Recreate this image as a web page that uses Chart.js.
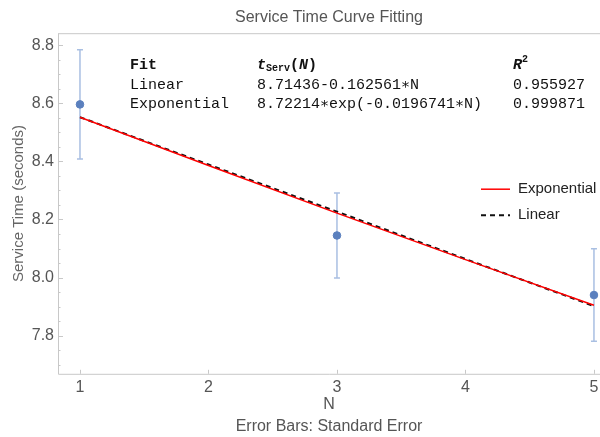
<!DOCTYPE html>
<html>
<head>
<meta charset="utf-8">
<script src="https://cdn.jsdelivr.net/npm/chart.js@4.4.1/dist/chart.umd.min.js"></script>
<style>
  html, body { margin: 0; padding: 0; background: #fff; }
  #wrap { width: 600px; height: 437px; }
</style>
</head>
<body>
<div id="wrap"><canvas id="fitChart" width="600" height="437"></canvas></div>
<script>
// --- data ---
const nValues = [1, 3, 5];
const serviceMean = [8.596, 8.145, 7.940];
const serviceErr = [0.188, 0.146, 0.159];

const fitN = [1, 2, 3, 4, 5];
const expFit = [8.552, 8.386, 8.222, 8.062, 7.905];
const linFit = [8.552, 8.389, 8.227, 8.064, 7.902];

const xTicks = [1, 2, 3, 4, 5];
const yTicks = [7.8, 8.0, 8.2, 8.4, 8.6, 8.8];

const fitNames = ['Linear', 'Exponential'];
const fitFormulas = ['8.71436-0.162561\u2217N', '8.72214\u2217exp(-0.0196741\u2217N)'];
const fitR2 = ['0.955927', '0.999871'];

const SANS = '"Liberation Sans", Arial, Helvetica, sans-serif';
const MONO = '"Liberation Mono", "DejaVu Sans Mono", monospace';
const FRAME = '#c8c8c8';

const toPoints = (xs, ys) => xs.map((x, i) => ({ x: x, y: ys[i] }));

// error bars under the points
const errorBars = {
    id: 'errorBars',
    beforeDatasetsDraw(chart) {
        const { ctx, scales: { x, y } } = chart;
        ctx.save();
        ctx.strokeStyle = '#a9bfe2';
        ctx.lineWidth = 1.5;
        nValues.forEach((n, i) => {
            const px = x.getPixelForValue(n);
            const top = y.getPixelForValue(serviceMean[i] + serviceErr[i]);
            const bot = y.getPixelForValue(serviceMean[i] - serviceErr[i]);
            ctx.beginPath();
            ctx.moveTo(px, top); ctx.lineTo(px, bot);
            ctx.moveTo(px - 3, top); ctx.lineTo(px + 3, top);
            ctx.moveTo(px - 3, bot); ctx.lineTo(px + 3, bot);
            ctx.stroke();
        });
        ctx.restore();
    }
};

// frame lines, small inward ticks and the x tick labels
const frame = {
    id: 'frame',
    beforeDatasetsDraw(chart) {
        const { ctx, chartArea: a, scales: { x, y } } = chart;
        ctx.save();
        ctx.strokeStyle = FRAME;
        ctx.lineWidth = 1;
        ctx.beginPath();
        ctx.moveTo(a.left + 0.5, a.top + 0.5);
        ctx.lineTo(a.left + 0.5, a.bottom + 0.5);
        ctx.lineTo(a.right, a.bottom + 0.5);
        ctx.moveTo(a.left, a.top + 0.5);
        ctx.lineTo(a.right, a.top + 0.5);
        // y ticks, minor every 0.05
        for (let v = 7.7; v <= 8.8001; v += 0.05) {
            const py = Math.round(y.getPixelForValue(v)) + 0.5;
            if (py < a.top || py > a.bottom) continue;
            const major = yTicks.some(t => Math.abs(t - v) < 1e-6);
            ctx.moveTo(a.left, py);
            ctx.lineTo(a.left + (major ? 5 : 2.5), py);
        }
        xTicks.forEach(t => {
            const px = Math.round(x.getPixelForValue(t)) + 0.5;
            ctx.moveTo(px, a.bottom);
            ctx.lineTo(px, a.bottom - 4);
        });
        ctx.stroke();

        ctx.fillStyle = '#555';
        ctx.font = '16px ' + SANS;
        ctx.textAlign = 'center';
        ctx.textBaseline = 'middle';
        xTicks.forEach(t => {
            ctx.fillText(String(t), x.getPixelForValue(t), a.bottom + 14);
        });
        ctx.restore();
    }
};

// fit table and legend
const annotations = {
    id: 'annotations',
    afterDraw(chart) {
        const { ctx, chartArea: a } = chart;
        ctx.save();
        ctx.textBaseline = 'middle';
        ctx.textAlign = 'left';
        ctx.fillStyle = '#111';

        const col1 = a.left + 72, col2 = a.left + 199, col3 = a.left + 455;
        const row0 = a.top + 32, rowGap = 19.5;

        const runs = (x, y, parts) => {
            parts.forEach(p => {
                ctx.font = p.font;
                ctx.fillText(p.text, x, y + (p.dy || 0));
                x += ctx.measureText(p.text).width;
            });
        };
        const B = 'bold 15px ' + MONO;
        const BI = 'italic bold 15px ' + MONO;
        const SMALL = 'bold 10px ' + MONO;
        runs(col1, row0, [{ text: 'Fit', font: B }]);
        runs(col2, row0, [
            { text: 't', font: BI },
            { text: 'Serv', font: SMALL, dy: 3 },
            { text: '(', font: B },
            { text: 'N', font: BI },
            { text: ')', font: B }
        ]);
        runs(col3, row0, [
            { text: 'R', font: BI },
            { text: '2', font: SMALL, dy: -6 }
        ]);

        ctx.font = '15px ' + MONO;
        fitNames.forEach((name, i) => {
            const ry = row0 + rowGap * (i + 1);
            ctx.fillText(name, col1, ry);
            ctx.fillText(fitFormulas[i], col2, ry);
            ctx.fillText(fitR2[i], col3, ry);
        });

        // legend
        const lx = a.right - 119, ly = a.top + 156;
        [chart.data.datasets[1], chart.data.datasets[2]].forEach((ds, i) => {
            const yy = ly + i * 26;
            ctx.strokeStyle = ds.borderColor;
            ctx.lineWidth = ds.borderWidth;
            ctx.setLineDash(ds.borderDash || []);
            ctx.beginPath();
            ctx.moveTo(lx, yy);
            ctx.lineTo(lx + 29, yy);
            ctx.stroke();
            ctx.setLineDash([]);
            ctx.fillStyle = '#222';
            ctx.font = '15px ' + SANS;
            ctx.fillText(ds.label, lx + 37, yy);
        });
        ctx.restore();
    }
};

const ctx = document.getElementById('fitChart').getContext('2d');
const fitChart = new Chart(ctx, {
    type: 'scatter',
    data: {
        datasets: [
            {
                label: 'Data',
                data: toPoints(nValues, serviceMean),
                backgroundColor: '#5b80be',
                borderColor: '#5b80be',
                pointRadius: 3.8,
                pointHoverRadius: 3.8,
                showLine: false,
                clip: false
            },
            {
                label: 'Exponential',
                data: toPoints(fitN, expFit),
                showLine: true,
                borderColor: '#ff0000',
                borderWidth: 1.5,
                pointRadius: 0,
                tension: 0
            },
            {
                label: 'Linear',
                data: toPoints(fitN, linFit),
                showLine: true,
                borderColor: '#111111',
                borderWidth: 2,
                borderDash: [5, 4],
                pointRadius: 0,
                tension: 0
            }
        ]
    },
    options: {
        responsive: false,
        animation: false,
        events: [],
        layout: { padding: 0, autoPadding: false },
        plugins: {
            legend: { display: false },
            tooltip: { enabled: false },
            title: {
                display: true,
                text: 'Service Time Curve Fitting',
                fullSize: false,
                color: '#555',
                font: { family: SANS, size: 16, weight: 'normal' },
                padding: { top: 8, bottom: 6 }
            },
            subtitle: {
                display: true,
                position: 'bottom',
                text: 'Error Bars: Standard Error',
                fullSize: false,
                color: '#555',
                font: { family: SANS, size: 16, weight: 'normal' },
                padding: { top: 2, bottom: 1 }
            }
        },
        scales: {
            x: {
                type: 'linear',
                min: 0.829,
                max: 5.047,
                grid: { display: false, drawTicks: false },
                border: { display: false },
                ticks: { display: false },
                afterBuildTicks: s => { s.ticks = xTicks.map(v => ({ value: v })); },
                afterFit: s => { s.height = 41; },
                title: {
                    display: true,
                    text: 'N',
                    color: '#555',
                    font: { family: SANS, size: 16 },
                    padding: { top: 0, bottom: 1 }
                }
            },
            y: {
                type: 'linear',
                min: 7.669,
                max: 8.841,
                grid: { display: false, drawTicks: false },
                border: { display: false },
                ticks: {
                    color: '#555',
                    font: { family: SANS, size: 16 },
                    padding: 4,
                    callback: v => v.toFixed(1)
                },
                afterBuildTicks: s => { s.ticks = yTicks.map(v => ({ value: v })); },
                afterFit: s => { s.width = 58; },
                title: {
                    display: true,
                    text: 'Service Time (seconds)',
                    color: '#666',
                    font: { family: SANS, size: 15 },
                    padding: { top: 10, bottom: 0 }
                }
            }
        }
    },
    plugins: [frame, errorBars, annotations]
});
</script>
</body>
</html>
